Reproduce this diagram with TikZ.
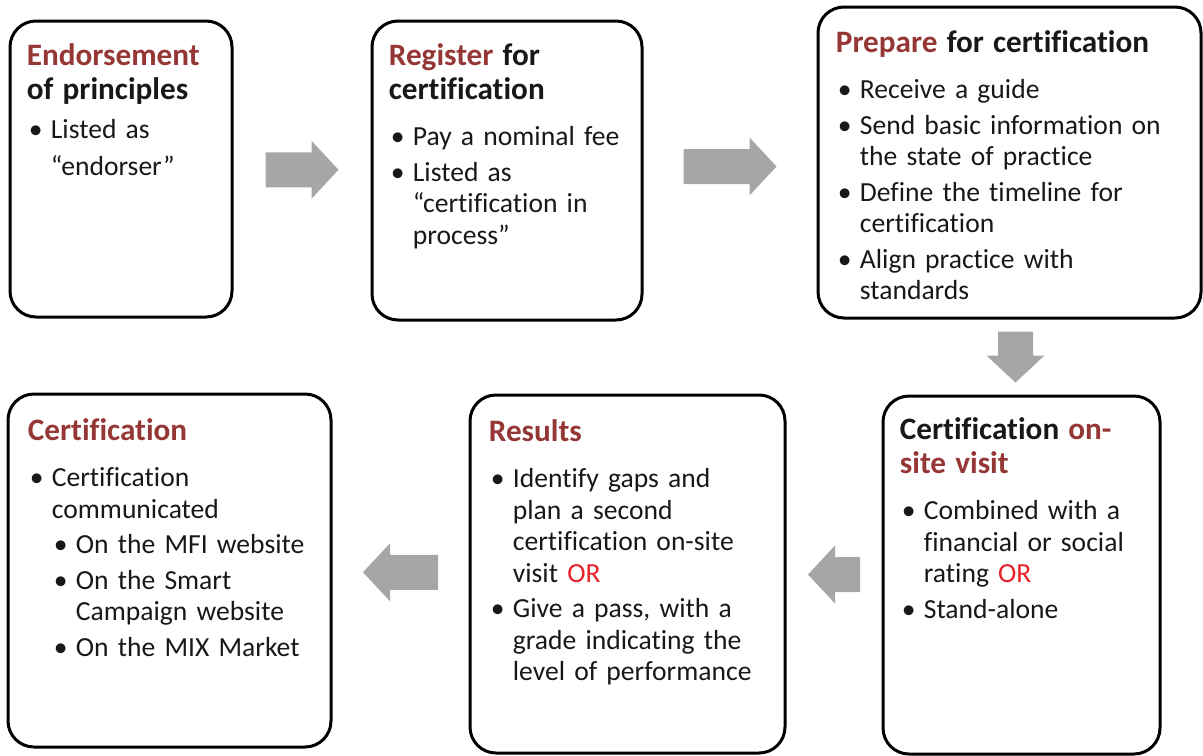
\documentclass[tikz,border=0pt]{standalone}
\usepackage{fontspec}
\setmainfont[Ligatures=NoCommon]{Carlito}
\usetikzlibrary{calc}
\usetikzlibrary{fit}
\definecolor{stagered}{RGB}{149,55,53}
\definecolor{orred}{RGB}{232,32,40}
\definecolor{flowgray}{RGB}{166,166,166}
\definecolor{bodyblack}{RGB}{24,24,24}
\tikzstyle{stagebox}=[draw=black,line width=1.5pt,rounded corners=13pt,inner sep=0pt]
\tikzstyle{stagetext}=[anchor=north west,inner sep=0pt,align=left,text=bodyblack,font=\fontsize{13.8}{15.75}\selectfont]
\newcommand{\stagehl}[1]{\textcolor{stagered}{#1}}
\newcommand{\orword}{\textcolor{orred}{OR}}
\newcommand{\stagetitle}[1]{{\fontsize{15.6}{17}\selectfont\bfseries\noindent #1\par}}
\newcommand{\stagepoint}[2][2pt]{% Syntax: [space above] {text}
	\par\vspace{#1}\noindent\hangindent=12pt\hangafter=1\hspace*{1pt}\makebox[11pt][l]{\textbullet}#2\par
}
\newcommand{\stagesubpoint}[2][2pt]{
	\par\vspace{#1}\noindent\hangindent=24pt\hangafter=1\hspace*{13pt}\makebox[11pt][l]{\textbullet}#2\par
}
\newcommand{\flowarrow}[4]{% Syntax: {from anchor}{to anchor}{direction angle}{length}
	\begin{scope}[shift={($(#1)!0.5!(#2)$)},rotate=#3]
	\fill[flowgray] (-#4/2,-17.5) -- (#4/2-27,-17.5) -- (#4/2-27,-29) -- (#4/2,0)
		-- (#4/2-27,29) -- (#4/2-27,17.5) -- (-#4/2,17.5) -- cycle;
	\end{scope}
}

\begin{document}
\begin{tikzpicture}[x=0.5pt,y=-0.5pt]
	\useasboundingbox (0,0) rectangle (1203,755);
	% top row
	\node[stagebox,fit={(10,21) (232,317)}] (endorse) {};
	\node[stagebox,fit={(372,21) (642,320)}] (register) {};
	\node[stagebox,fit={(818,7) (1201,318)}] (prepare) {};
	% bottom row
	\node[stagebox,fit={(883,396) (1160,754)}] (onsite) {};
	\node[stagebox,fit={(470,395) (785,753)}] (results) {};
	\node[stagebox,fit={(8,394) (331,747)}] (certified) {};

	\node[stagetext,text width=99pt,font=\fontsize{13.8}{18.5}\selectfont] (endorsetext) at ([shift={(18,24)}]endorse.north west) {
		\stagetitle{\stagehl{Endorsement}\newline of principles}
		\stagepoint[1pt]{Listed as\newline “endorser”}
	};
	\node[stagetext,text width=123pt] (registertext) at ([shift={(18,24)}]register.north west) {
		\stagetitle{\stagehl{Register} for\newline certification}
		\stagepoint[7.25pt]{Pay a nominal fee}
		\stagepoint{Listed as\newline “certification in\newline process”}
	};
	\node[stagetext,text width=179pt] (preparetext) at ([shift={(19,25)}]prepare.north west) {
		\stagetitle{\stagehl{Prepare} for certification}
		\stagepoint[7.25pt]{Receive a guide}
		\stagepoint{Send basic information on\newline the state of practice}
		\stagepoint{Define the timeline for\newline certification}
		\stagepoint{Align practice with\newline standards}
	};
	\node[stagetext,text width=126pt] (onsitetext) at ([shift={(18,23)}]onsite.north west) {
		\stagetitle{Certification \stagehl{on-}\newline \stagehl{site visit}}
		\stagepoint[7.25pt]{Combined with a\newline financial or social\newline rating \orword}
		\stagepoint{Stand-alone}
	};
	\node[stagetext,text width=145pt] (resultstext) at ([shift={(20,26)}]results.north west) {
		\stagetitle{\stagehl{Results}}
		\stagepoint[7.25pt]{Identify gaps and\newline plan a second\newline certification on-site\newline visit \orword}
		\stagepoint{Give a pass, with a\newline grade indicating the\newline level of performance}
	};
	\node[stagetext,text width=149pt] (certifiedtext) at ([shift={(21,26)}]certified.north west) {
		\stagetitle{\stagehl{Certification}}
		\stagepoint[7.25pt]{Certification\newline communicated}
		\stagesubpoint{On the MFI website}
		\stagesubpoint{On the Smart\newline Campaign website}
		\stagesubpoint{On the MIX Market}
	};

	% block arrows between the stages
	\flowarrow{endorse.east}{register.west}{0}{73}
	\flowarrow{register.east}{prepare.west}{0}{93}
	\flowarrow{prepare.south}{onsite.north}{-90}{51}
	\flowarrow{onsite.west}{results.east}{180}{52}
	\flowarrow{results.west}{certified.east}{180}{75}
\end{tikzpicture}
\end{document}
